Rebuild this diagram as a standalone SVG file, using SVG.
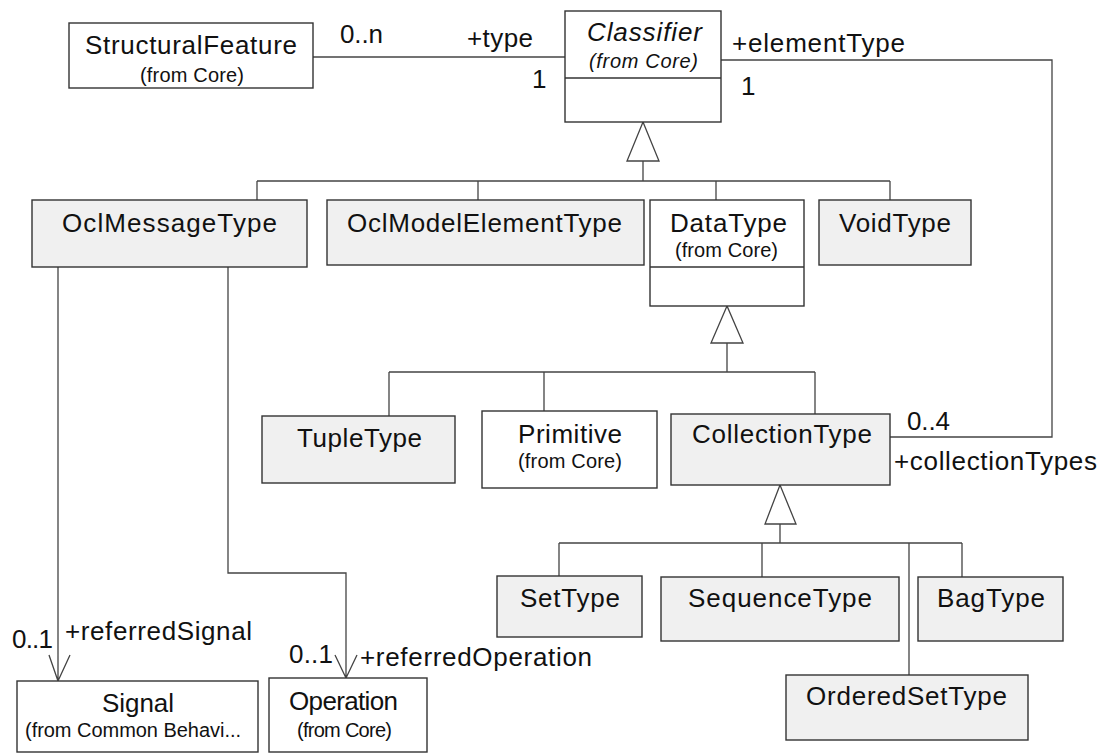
<svg xmlns="http://www.w3.org/2000/svg" width="1104" height="753" viewBox="0 0 1104 753">
<style>
.box{stroke:#333;stroke-width:1.4}
.g{fill:#f0f0f0}
.w{fill:#fff}
.ln{fill:none;stroke:#444;stroke-width:1.3}
.tri{fill:#fff;stroke:#444;stroke-width:1.3}
text{font-family:"Liberation Sans",Arial,sans-serif;fill:#111}
.n{font-size:26px;text-anchor:middle}
.s{font-size:20px;text-anchor:middle}
.l{font-size:26px}
.i{font-style:italic}
</style>
<rect width="1104" height="753" fill="#fff"/>
<g id="connectors">
  <path class="ln" d="M313,57 H565"/>
  <path class="ln" d="M721,60 H1052 V437 H890"/>
  <path class="ln" d="M643,161 V181 M257,181 H890 M257,181 V200 M478,181 V200 M716,181 V200 M890,181 V200"/>
  <polygon class="tri" points="643,122 627,161 659,161"/>
  <path class="ln" d="M727,343 V372 M389,372 H815 M389,372 V416 M544,372 V411 M815,372 V414"/>
  <polygon class="tri" points="727,306 711,343 743,343"/>
  <path class="ln" d="M780,524 V543 M559,543 H962 M559,543 V576 M762,543 V577 M909,543 V675 M962,543 V577"/>
  <polygon class="tri" points="780,485 765,524 796,524"/>
  <path class="ln" d="M58,267 V681 M49,655 L58,681 L70,655"/>
  <path class="ln" d="M228,267 V573 H346 V678 M335,655 L346,678 L357,655"/>
</g>
<g id="StructuralFeature">
  <rect class="box w" x="69" y="23" width="244" height="65"/>
  <text class="n" x="191" y="54" textLength="212">StructuralFeature</text>
  <text class="s" x="192" y="82" textLength="104">(from Core)</text>
</g>
<g id="Classifier">
  <rect class="box w" x="565" y="11" width="156" height="111"/>
  <line class="box" x1="565" y1="78" x2="721" y2="78"/>
  <text class="n i" x="644.5" y="41" textLength="115">Classifier</text>
  <text class="s i" x="643.5" y="68" textLength="109">(from Core)</text>
</g>
<g id="OclMessageType">
  <rect class="box g" x="32" y="200" width="275" height="67"/>
  <text class="n" x="169.5" y="232" textLength="215">OclMessageType</text>
</g>
<g id="OclModelElementType">
  <rect class="box g" x="327" y="200" width="317" height="65"/>
  <text class="n" x="484.5" y="232" textLength="275">OclModelElementType</text>
</g>
<g id="DataType">
  <rect class="box w" x="650" y="200" width="154" height="106"/>
  <line class="box" x1="650" y1="267" x2="804" y2="267"/>
  <text class="n" x="728.5" y="232" textLength="117">DataType</text>
  <text class="s" x="726.5" y="257" textLength="103">(from Core)</text>
</g>
<g id="VoidType">
  <rect class="box g" x="819" y="200" width="152" height="65"/>
  <text class="n" x="895" y="232" textLength="112">VoidType</text>
</g>
<g id="TupleType">
  <rect class="box g" x="262" y="416" width="193" height="67"/>
  <text class="n" x="359.5" y="447" textLength="125">TupleType</text>
</g>
<g id="Primitive">
  <rect class="box w" x="482" y="411" width="175" height="77"/>
  <text class="n" x="570" y="443" textLength="104">Primitive</text>
  <text class="s" x="570" y="468" textLength="104">(from Core)</text>
</g>
<g id="CollectionType">
  <rect class="box g" x="671" y="414" width="219" height="71"/>
  <text class="n" x="782" y="443" textLength="180">CollectionType</text>
</g>
<g id="SetType">
  <rect class="box g" x="497" y="576" width="145" height="61"/>
  <text class="n" x="570" y="607" textLength="100">SetType</text>
</g>
<g id="SequenceType">
  <rect class="box g" x="661" y="577" width="238" height="64"/>
  <text class="n" x="780" y="607" textLength="184">SequenceType</text>
</g>
<g id="BagType">
  <rect class="box g" x="918" y="577" width="145" height="64"/>
  <text class="n" x="991" y="607" textLength="108">BagType</text>
</g>
<g id="OrderedSetType">
  <rect class="box g" x="786" y="675" width="242" height="65"/>
  <text class="n" x="906.5" y="705" textLength="201">OrderedSetType</text>
</g>
<g id="Signal">
  <rect class="box w" x="17" y="681" width="241" height="71"/>
  <text class="n" x="138" y="712" textLength="72">Signal</text>
  <text class="s" x="133" y="737" textLength="216">(from Common Behavi...</text>
</g>
<g id="Operation">
  <rect class="box w" x="269" y="678" width="158" height="74"/>
  <text class="n" x="343.5" y="710" textLength="109">Operation</text>
  <text class="s" x="344.5" y="737" textLength="95">(from Core)</text>
</g>
<g id="labels">
  <text class="l" x="340" y="43" textLength="43">0..n</text>
  <text class="l" x="467" y="47" textLength="66">+type</text>
  <text class="l" x="532" y="88">1</text>
  <text class="l" x="732" y="52" textLength="173">+elementType</text>
  <text class="l" x="741" y="95">1</text>
  <text class="l" x="907" y="430" textLength="43">0..4</text>
  <text class="l" x="894" y="470" textLength="203">+collectionTypes</text>
  <text class="l" x="12" y="648" textLength="41">0..1</text>
  <text class="l" x="65" y="640" textLength="187">+referredSignal</text>
  <text class="l" x="289" y="663" textLength="44">0..1</text>
  <text class="l" x="360" y="666" textLength="232">+referredOperation</text>
</g>
</svg>
